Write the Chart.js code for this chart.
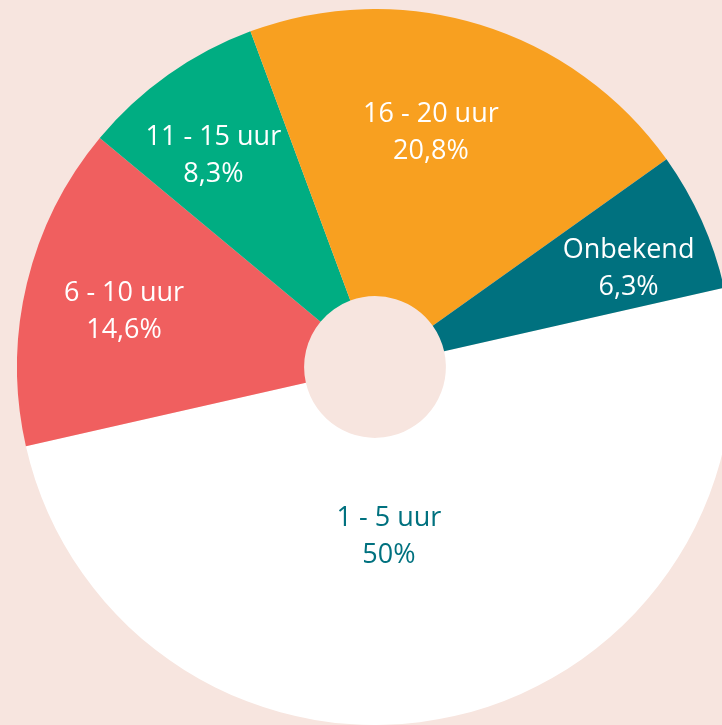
<!DOCTYPE html>
<html>
<head>
  <meta charset="utf-8">
  <title>Uren per week</title>
  <script src="https://cdn.jsdelivr.net/npm/chart.js"></script>
  <style>
    html, body { margin: 0; padding: 0; background: #f7e5df; overflow: hidden; width: 722px; height: 725px; }
    #pie { position: absolute; left: 17px; top: 9px; }
  </style>
</head>
<body>
  <canvas id="pie" width="716" height="716"></canvas>

  <script>
    const categories = ['1 - 5 uur', '6 - 10 uur', '11 - 15 uur', '16 - 20 uur', 'Onbekend'];
    const percentages = [50, 14.6, 8.3, 20.8, 6.3];
    const sliceColors = ['#ffffff', '#f05f5f', '#00ad82', '#f8a020', '#00717f'];
    const textColors = ['#00717f', '#ffffff', '#ffffff', '#ffffff', '#ffffff'];

    // where each label sits: fraction of outer radius, angle nudge in degrees
    const labelSpots = [
      { r: 0.474, shift: 8.1 },
      { r: 0.718, shift: -1 },
      { r: 0.745, shift: -2 },
      { r: 0.675, shift: -3.7 },
      { r: 0.76, shift: 2.9 }
    ];

    const sliceLabels = {
      id: 'sliceLabels',
      afterDatasetsDraw(chart) {
        const c = chart.ctx;
        const meta = chart.getDatasetMeta(0);
        c.save();
        c.font = '27px "Open Sans", sans-serif';
        c.textAlign = 'center';
        c.textBaseline = 'middle';
        meta.data.forEach((arc, i) => {
          const spot = labelSpots[i];
          const mid = (arc.startAngle + arc.endAngle) / 2 + spot.shift * Math.PI / 180;
          const rad = arc.outerRadius * spot.r;
          const x = arc.x + Math.cos(mid) * rad;
          const y = arc.y + Math.sin(mid) * rad;
          c.fillStyle = textColors[i];
          c.fillText(categories[i], x, y - 18);
          c.fillText(String(percentages[i]).replace('.', ',') + '%', x, y + 19);
        });
        c.restore();
      }
    };

    new Chart(document.getElementById('pie'), {
      type: 'doughnut',
      data: {
        labels: categories,
        datasets: [{
          data: percentages,
          backgroundColor: sliceColors,
          borderWidth: 0
        }]
      },
      options: {
        responsive: false,
        animation: false,
        rotation: 77.2,
        cutout: '19.8%',
        layout: { padding: 0 },
        plugins: {
          legend: { display: false },
          tooltip: { enabled: false }
        }
      },
      plugins: [sliceLabels]
    });
  </script>
</body>
</html>
